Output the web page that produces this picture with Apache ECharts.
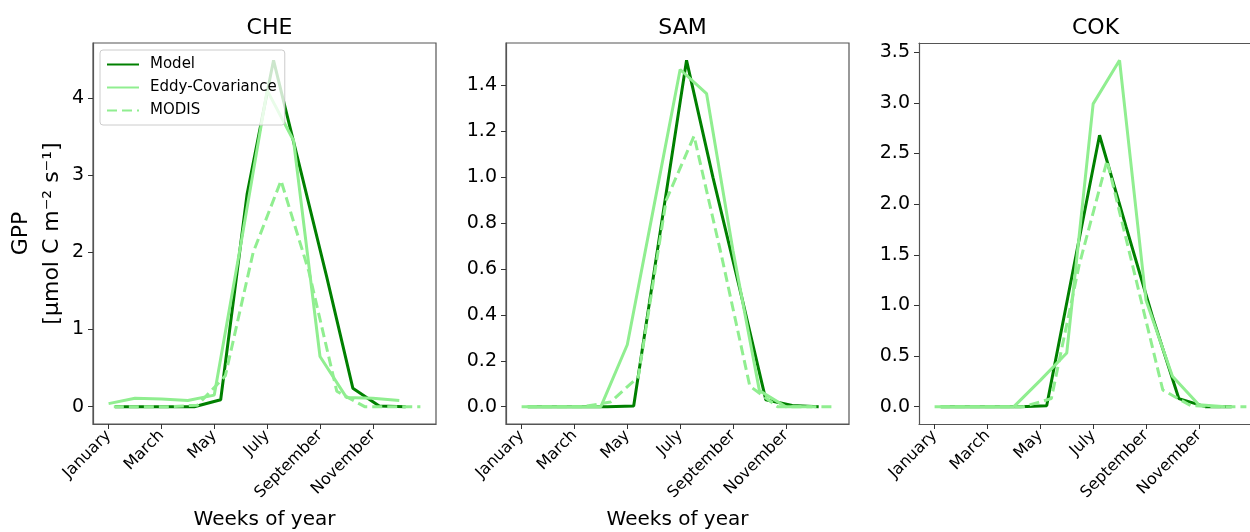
<!DOCTYPE html>
<html>
<head>
<meta charset="utf-8">
<script src="https://cdn.jsdelivr.net/npm/echarts@6/dist/echarts.min.js"></script>
<style>
  html, body { margin: 0; padding: 0; background: #fff; overflow: hidden; }
  /* the source figure is cropped on the right, so the canvas runs past the window */
  #chart { width: 1280px; height: 532px; }
</style>
</head>
<body>
<div id="chart"></div>
<script>
// x positions in weeks of year, one array per data source
var weeksEddy  = [0, 4.33, 8.67, 13, 17.33, 21.67, 26, 30.33, 34.67, 39, 43.33, 47.67];
var weeksModel = [1.05, 5.38, 9.72, 14.05, 18.38, 22.72, 27.05, 31.38, 35.72, 40.05, 44.38, 48.72];
var weeksModis = [0.86, 5.43, 10.0, 14.57, 19.14, 23.71, 28.28, 32.85, 37.42, 41.99, 46.56, 51.13];

// month ticks
var monthTicks = [0, 8.6667, 17.3333, 26, 34.6667, 43.3333];
var monthNames = ['January', 'March', 'May', 'July', 'September', 'November'];

// GPP values
var modelCHE = [0, 0, 0, 0, 0.09, 2.76, 4.49, 3.10, 1.70, 0.24, 0.01, 0];
var eddyCHE  = [0.04, 0.11, 0.10, 0.08, 0.15, 2.10, 4.10, 3.45, 0.65, 0.12, 0.11, 0.08];
var modisCHE = [0, 0, 0, 0.02, 0.40, 2.00, 2.93, 1.75, 0.20, 0, 0, 0];

var modelSAM = [0, 0, 0, 0, 0.003, 0.76, 1.51, 1.00, 0.52, 0.03, 0.005, 0];
var eddySAM  = [0, 0, 0, 0, 0.27, 0.87, 1.47, 1.365, 0.68, 0.07, 0, 0];
var modisSAM = [0, 0, 0, 0.02, 0.13, 0.90, 1.18, 0.65, 0.09, 0, 0, 0];

var modelCOK = [0, 0, 0, 0, 0.01, 1.35, 2.68, 1.78, 0.89, 0.08, 0, 0];
var eddyCOK  = [0, 0, 0, 0, 0.26, 0.53, 2.99, 3.42, 1.05, 0.30, 0.02, 0];
var modisCOK = [0, 0, 0, 0, 0.08, 1.40, 2.43, 1.30, 0.165, 0.01, 0, 0];

// y ticks per panel
var ticksCHE = [0, 1, 2, 3, 4];
var ticksSAM = [0, 0.2, 0.4, 0.6, 0.8, 1.0, 1.2, 1.4];
var ticksCOK = [0, 0.5, 1.0, 1.5, 2.0, 2.5, 3.0, 3.5];

var panels = [
  { title: 'CHE', left: 93,  model: modelCHE, eddy: eddyCHE, modis: modisCHE, ticks: ticksCHE, dec: 0, xname: true,  box: true },
  { title: 'SAM', left: 506, model: modelSAM, eddy: eddySAM, modis: modisSAM, ticks: ticksSAM, dec: 1, xname: true,  box: true },
  { title: 'COK', left: 919, model: modelCOK, eddy: eddyCOK, modis: modisCOK, ticks: ticksCOK, dec: 1, xname: false, box: false }
];

var font = 'DejaVu Sans';
var dark = '#008000';
var light = '#90ee90';
var frame = '#555';

function pairs(xs, ys) {
  return xs.map(function (x, i) { return [x, ys[i]]; });
}

var grids = [], xAxes = [], yAxes = [], series = [], titles = [];

panels.forEach(function (p, i) {
  var top = Math.max.apply(null, p.model.concat(p.eddy, p.modis));
  grids.push({ left: p.left, top: 43, width: 343, height: 381, show: p.box,
    borderColor: frame, borderWidth: 1.2, containLabel: false, outerBoundsMode: 'none' });
  titles.push({ text: p.title, left: p.left + 171.5, top: 12, textAlign: 'center',
    textStyle: { fontFamily: font, fontSize: 22, fontWeight: 'normal', color: '#000' } });

  xAxes.push({
    type: 'value', gridIndex: i, min: -2.557, max: 53.69,
    name: p.xname ? 'Weeks of year' : '', nameLocation: 'middle', nameGap: 86,
    nameTextStyle: { fontFamily: font, fontSize: 20, color: '#000' },
    axisLine: { show: true, onZero: false, lineStyle: { color: frame, width: 1.2 } },
    axisTick: { show: true, length: 5, lineStyle: { color: '#333' }, customValues: monthTicks },
    axisLabel: { show: true, rotate: 45, margin: 9, fontFamily: font, fontSize: 16, color: '#000',
      customValues: monthTicks,
      formatter: function (v) { return monthNames[Math.round(v / 8.6667)]; } },
    splitLine: { show: false }
  });

  yAxes.push({
    type: 'value', gridIndex: i, min: -0.05 * top, max: top * 1.05,
    name: i === 0 ? 'GPP\n[\u03bcmol C m\u207b\u00b2 s\u207b\u00b9]' : '',
    nameLocation: 'middle', nameRotate: 90, nameGap: 17,
    nameTextStyle: { fontFamily: font, fontSize: 22, color: '#000', lineHeight: 31 },
    axisLine: { show: true, onZero: false, lineStyle: { color: frame, width: 1.2 } },
    axisTick: { show: true, length: 5, lineStyle: { color: '#333' }, customValues: p.ticks },
    axisLabel: { show: true, margin: 9, fontFamily: font, fontSize: 19, color: '#000',
      customValues: p.ticks,
      formatter: function (v) { return v.toFixed(p.dec); } },
    splitLine: { show: false }
  });

  series.push({
    name: 'Model', type: 'line', xAxisIndex: i, yAxisIndex: i, data: pairs(weeksModel, p.model),
    symbol: 'none', lineStyle: { color: dark, width: 3 }, itemStyle: { color: dark }, silent: true, animation: false
  });
  series.push({
    name: 'Eddy-Covariance', type: 'line', xAxisIndex: i, yAxisIndex: i, data: pairs(weeksEddy, p.eddy),
    symbol: 'none', lineStyle: { color: light, width: 3 }, itemStyle: { color: light }, silent: true, animation: false
  });
  series.push({
    name: 'MODIS', type: 'line', xAxisIndex: i, yAxisIndex: i, data: pairs(weeksModis, p.modis),
    symbol: 'none', lineStyle: { color: light, width: 3, type: [10, 5] }, itemStyle: { color: light }, silent: true, animation: false
  });
});

// top edge of the last panel, whose right edge falls outside the picture
xAxes.push({
  type: 'value', gridIndex: 2, position: 'top', min: -2.557, max: 53.69,
  axisLine: { show: true, onZero: false, lineStyle: { color: frame, width: 1.2 } },
  axisTick: { show: false }, axisLabel: { show: false }, splitLine: { show: false }
});

var chart = echarts.init(document.getElementById('chart'), null, { renderer: 'canvas' });
chart.setOption({
  backgroundColor: '#fff',
  animation: false,
  title: titles,
  grid: grids,
  xAxis: xAxes,
  yAxis: yAxes,
  legend: {
    data: ['Model', 'Eddy-Covariance', 'MODIS'],
    orient: 'vertical', left: 100, top: 50,
    itemWidth: 32, itemHeight: 14, itemGap: 8,
    padding: [7, 8, 7, 6],
    backgroundColor: 'rgba(255,255,255,0.8)', borderColor: '#ccc', borderWidth: 1, borderRadius: 3,
    selectedMode: false,
    itemStyle: { opacity: 0 },
    textStyle: { fontFamily: font, fontSize: 15, color: '#000', padding: [0, 0, 0, 6] }
  },
  series: series
});
</script>
</body>
</html>
